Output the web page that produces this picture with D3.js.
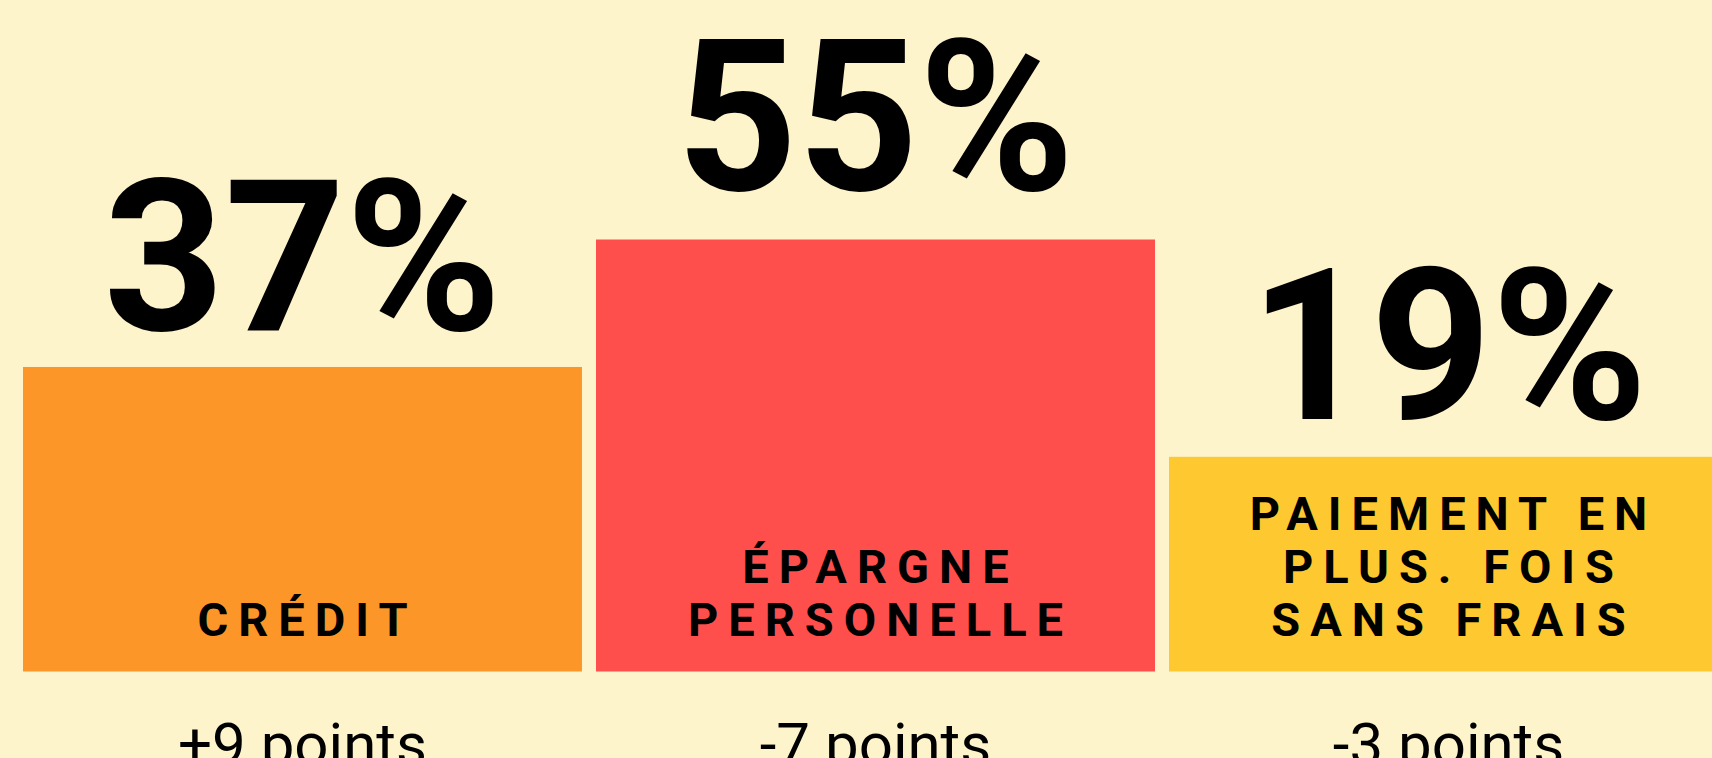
<!DOCTYPE html>
<html>
<head>
<meta charset="utf-8">
<script src="https://cdn.jsdelivr.net/npm/d3@7"></script>
<style>
  html, body { margin: 0; padding: 0; background: #fef4cc; overflow: hidden; }
  svg { display: block; }
  text { font-family: Roboto, "Open Sans", sans-serif; fill: #000; }
</style>
</head>
<body>
<div id="chart"></div>
<script>
// data
const categories = ["credit", "epargne", "paiement"];
const shares = [37, 55, 19];
const changes = ["+9 points", "-7 points", "-3 points"];
const labelLines = [
  ["CRÉDIT"],
  ["ÉPARGNE", "PERSONELLE"],
  ["PAIEMENT EN", "PLUS. FOIS", "SANS FRAIS"]
];
const colors = ["#fc9628", "#ff4f4c", "#fdc830"];

function create_svg() {
  const width = 1750, height = 758,
    baseline = 671.5;

  const svg = d3.select("#chart")
    .append("svg")
      .attr("width", width)
      .attr("height", height);

  svg.append("rect")
    .attr("width", width)
    .attr("height", height)
    .attr("fill", "#fef4cc");

  const x = d3.scaleBand()
    .domain(categories)
    .range([23, 1728])
    .paddingInner(0.0245)
    .paddingOuter(0);

  // the bars of the original are not strictly proportional
  const y = d3.scalePow()
    .exponent(1.7)
    .domain([0, 55])
    .range([baseline - 172, baseline - 432]);

  // big numbers sit a bit higher on the tallest bar
  const yLabel = d3.scalePow()
    .exponent(1.92)
    .domain([0, 55])
    .range([453, 190]);

  const data = categories.map((c, i) => ({
    key: c, value: shares[i], change: changes[i], lines: labelLines[i], color: colors[i]
  }));

  const g = svg.selectAll("g.bar")
    .data(data)
    .join("g")
      .attr("class", "bar");

  g.append("rect")
    .attr("x", d => x(d.key))
    .attr("y", d => y(d.value))
    .attr("width", x.bandwidth())
    .attr("height", d => baseline - y(d.value))
    .attr("fill", d => d.color);

  // big percentage
  g.append("text")
    .attr("x", d => x(d.key) + x.bandwidth() / 2)
    .attr("y", d => yLabel(d.value))
    .attr("text-anchor", "middle")
    .style("font-size", "211px")
    .style("font-weight", 700)
    .text(d => d.value + "%");

  // category label, bottom aligned inside the bar
  const lineH = 53;
  g.each(function (d) {
    const t = d3.select(this).append("text")
      .attr("text-anchor", "middle")
      .style("font-size", "47px")
      .style("font-weight", 700)
      .style("letter-spacing", "10px");
    const n = d.lines.length;
    d.lines.forEach((line, j) => {
      t.append("tspan")
        .attr("x", x(d.key) + x.bandwidth() / 2 + 5)
        .attr("y", baseline - 36 - (n - 1 - j) * lineH)
        .text(line);
    });
  });

  // change below
  g.append("text")
    .attr("x", d => x(d.key) + x.bandwidth() / 2)
    .attr("y", 765)
    .attr("text-anchor", "middle")
    .style("font-size", "60px")
    .style("font-weight", 400)
    .text(d => d.change);
}

create_svg();
</script>
</body>
</html>
